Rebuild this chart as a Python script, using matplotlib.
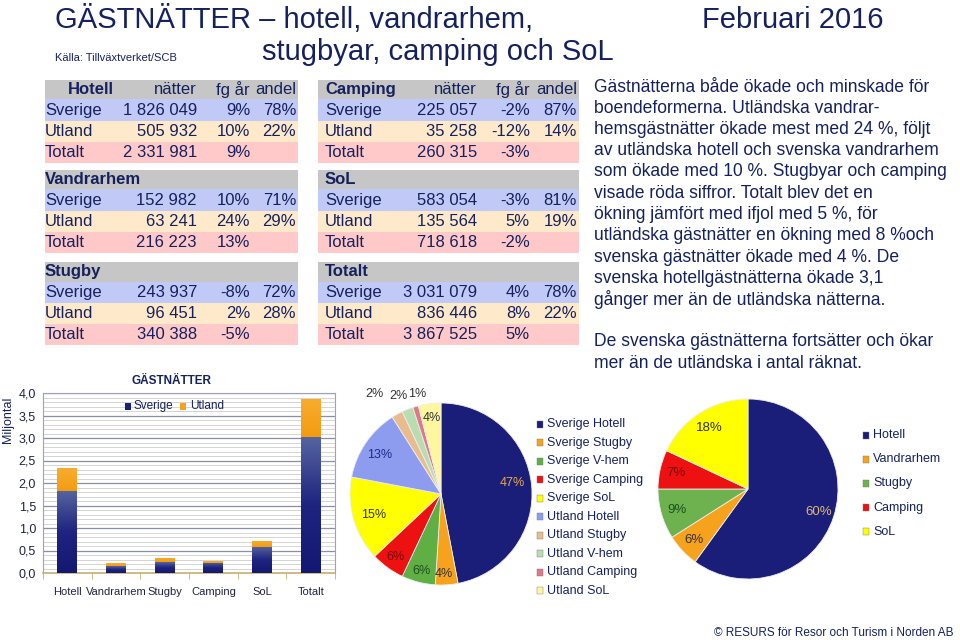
import matplotlib
matplotlib.use("Agg")
import matplotlib.pyplot as plt
import numpy as np
from matplotlib.patches import Rectangle
from matplotlib.ticker import MultipleLocator, FuncFormatter
from matplotlib.colors import LinearSegmentedColormap

plt.rcParams['font.family'] = ['Liberation Sans', 'DejaVu Sans']

# ---------------- data ----------------
rows = ["Sverige", "Utland", "Totalt"]

hotell_natter = [1826049, 505932, 2331981]
hotell_fg = ["9%", "10%", "9%"]
hotell_andel = ["78%", "22%", ""]

vandrarhem_natter = [152982, 63241, 216223]
vandrarhem_fg = ["10%", "24%", "13%"]
vandrarhem_andel = ["71%", "29%", ""]

stugby_natter = [243937, 96451, 340388]
stugby_fg = ["-8%", "2%", "-5%"]
stugby_andel = ["72%", "28%", ""]

camping_natter = [225057, 35258, 260315]
camping_fg = ["-2%", "-12%", "-3%"]
camping_andel = ["87%", "14%", ""]

sol_natter = [583054, 135564, 718618]
sol_fg = ["-3%", "5%", "-2%"]
sol_andel = ["81%", "19%", ""]

totalt_natter = [3031079, 836446, 3867525]
totalt_fg = ["4%", "8%", "5%"]
totalt_andel = ["78%", "22%", ""]

bar_categories = ["Hotell", "Vandrarhem", "Stugby", "Camping", "SoL", "Totalt"]
bar_sverige = [v[0] / 1e6 for v in [hotell_natter, vandrarhem_natter, stugby_natter,
                                    camping_natter, sol_natter, totalt_natter]]
bar_utland = [v[1] / 1e6 for v in [hotell_natter, vandrarhem_natter, stugby_natter,
                                   camping_natter, sol_natter, totalt_natter]]

pie1_labels = ["Sverige Hotell", "Sverige Stugby", "Sverige V-hem", "Sverige Camping",
               "Sverige SoL", "Utland Hotell", "Utland Stugby", "Utland V-hem",
               "Utland Camping", "Utland SoL"]
pie1_pct = [47, 4, 6, 6, 15, 13, 2, 2, 1, 4]

pie2_labels = ["Hotell", "Vandrarhem", "Stugby", "Camping", "SoL"]
pie2_pct = [60, 6, 9, 7, 18]

body_lines = [
    "Gästnätterna både ökade och minskade för",
    "boendeformerna. Utländska vandrar-",
    "hemsgästnätter ökade mest med 24 %, följt",
    "av utländska hotell och svenska vandrarhem",
    "som ökade med 10 %. Stugbyar och camping",
    "visade röda siffror. Totalt blev det en",
    "ökning jämfört med ifjol med 5 %, för",
    "utländska gästnätter en ökning med 8 %och",
    "svenska gästnätter ökade med 4 %. De",
    "svenska hotellgästnätterna ökade 3,1",
    "gånger mer än de utländska nätterna.",
    "",
    "De svenska gästnätterna fortsätter och ökar",
    "mer än de utländska i antal räknat.",
]

# ---------------- helpers ----------------
W, H = 960, 640
NAVY = "#15215E"
fig = plt.figure(figsize=(W / 100, H / 100), dpi=100)


def X(x):
    return x / W


def Y(y):
    return 1 - y / H


def rect(l, t, w, h):
    return [l / W, 1 - (t + h) / H, w / W, h / H]


def fmt_num(v):
    return f"{v:,}".replace(",", " ")


def txt(x, y, s, **kw):
    kw.setdefault("color", NAVY)
    kw.setdefault("va", "center")
    fig.text(X(x), Y(y), s, **kw)


# ---------------- titles ----------------
txt(55, 20, "GÄSTNÄTTER – hotell, vandrarhem,", fontsize=21)
txt(262, 52, "stugbyar, camping och SoL", fontsize=21)
txt(55, 58, "Källa: Tillväxtverket/SCB", fontsize=8)
txt(702, 20, "Februari 2016", fontsize=21)
txt(953, 633, "© RESURS för Resor och Turism i Norden AB", fontsize=8.5, ha="right")

# ---------------- tables ----------------
row_colors = ["#C6C6C6", "#C1C9F6", "#FEEACB", "#FFC9C9"]
group_tops = [80, 170, 262]
row_h = [19.5, 21.3, 21.3, 21.3]

left_groups = [("Hotell", hotell_natter, hotell_fg, hotell_andel),
               ("Vandrarhem", vandrarhem_natter, vandrarhem_fg, vandrarhem_andel),
               ("Stugby", stugby_natter, stugby_fg, stugby_andel)]
right_groups = [("Camping", camping_natter, camping_fg, camping_andel),
                ("SoL", sol_natter, sol_fg, sol_andel),
                ("Totalt", totalt_natter, totalt_fg, totalt_andel)]

tables = [
    dict(groups=left_groups, x0=45, x1=298, lab=45, c1=197, c2=250, c3=296),
    dict(groups=right_groups, x0=318, x1=579, lab=325, c1=477, c2=530, c3=577),
]

FS = 12
for ti, t in enumerate(tables):
    for gi, (name, natter, fg, andel) in enumerate(t["groups"]):
        y = group_tops[gi]
        centers = []
        for ri in range(4):
            fig.patches.append(Rectangle((X(t["x0"]), Y(y + row_h[ri])),
                                         (t["x1"] - t["x0"]) / W, row_h[ri] / H,
                                         transform=fig.transFigure,
                                         facecolor=row_colors[ri], edgecolor="none",
                                         zorder=0))
            centers.append(y + row_h[ri] / 2)
            y += row_h[ri]
        hx = t["lab"] + (23 if (ti == 0 and gi == 0) else 0)
        txt(hx, centers[0], name, fontsize=FS, fontweight="bold")
        if gi == 0:
            txt(t["c1"], centers[0], "nätter", fontsize=FS, ha="right")
            txt(t["c2"], centers[0], "fg år", fontsize=FS, ha="right")
            txt(t["c3"], centers[0], "andel", fontsize=FS, ha="right")
        for ri in range(3):
            cy = centers[ri + 1]
            txt(t["lab"], cy, rows[ri], fontsize=FS)
            txt(t["c1"], cy, fmt_num(natter[ri]), fontsize=FS, ha="right")
            txt(t["c2"], cy, fg[ri], fontsize=FS, ha="right")
            if andel[ri]:
                txt(t["c3"], cy, andel[ri], fontsize=FS, ha="right")

# ---------------- body text ----------------
for i, line in enumerate(body_lines):
    y = 87 + i * 21.25
    if line:
        txt(594, y, line, fontsize=12.65)

# ---------------- bar chart ----------------
ax = fig.add_axes(rect(43, 393, 292, 180))
xs = np.arange(len(bar_categories))
bw = 0.41
b1 = ax.bar(xs, bar_sverige, width=bw, color="#1A1F78", zorder=3)
b2 = ax.bar(xs, bar_utland, width=bw, bottom=bar_sverige, color="#F6A21C", zorder=3)

grad = np.linspace(0, 1, 64).reshape(-1, 1)
cm_navy = LinearSegmentedColormap.from_list("n", ["#141872", "#1E2480", "#56649F"])
cm_or = LinearSegmentedColormap.from_list("o", ["#F39C12", "#F8AC2E"])
for bars, cm in ((b1, cm_navy), (b2, cm_or)):
    for p in bars:
        x0, y0 = p.get_x(), p.get_y()
        im = ax.imshow(grad, extent=[x0, x0 + p.get_width(), y0, y0 + p.get_height()],
                       origin="lower", cmap=cm, aspect="auto", zorder=3.5)
        im.set_clip_path(p)

ax.set_xlim(-0.5, 5.5)
ax.set_ylim(0, 4.0)
ax.yaxis.set_major_locator(MultipleLocator(0.5))
ax.yaxis.set_minor_locator(MultipleLocator(0.1))
ax.yaxis.set_major_formatter(FuncFormatter(lambda v, p: f"{v:.1f}".replace(".", ",")))
ax.grid(axis="y", which="minor", color="#D4D4D4", lw=0.7, zorder=0)
ax.grid(axis="y", which="major", color="#8A8FA8", lw=0.9, zorder=0)
ax.set_xticks(xs)
ax.set_xticklabels(bar_categories, fontsize=8, color="#222244")
ax.tick_params(axis="x", length=0, pad=10)
ax.set_xticks(np.arange(-0.5, 6, 1), minor=True)
ax.tick_params(axis="x", which="minor", length=4, color="#C8B070")
ax.tick_params(axis="y", which="both", length=0, labelsize=9, labelcolor="#222244", pad=5)
for s in ["top", "right", "left"]:
    ax.spines[s].set_color("#9AA2C0")
ax.spines["bottom"].set_color("#C8B070")
ax.spines["bottom"].set_linewidth(1.2)
ax.set_axisbelow(True)
txt(8, 420, "Miljontal", fontsize=9, rotation=90, ha="center")
txt(172, 381, "GÄSTNÄTTER", fontsize=8.5, fontweight="bold", ha="center")
fig.patches.append(Rectangle((X(125), Y(410)), 6 / W, 7 / H, transform=fig.transFigure,
                             facecolor="#1A1F78", edgecolor="none", zorder=5))
txt(134, 406, "Sverige", fontsize=8.5)
fig.patches.append(Rectangle((X(180), Y(410)), 6 / W, 7 / H, transform=fig.transFigure,
                             facecolor="#F6A21C", edgecolor="none", zorder=5))
txt(190, 406, "Utland", fontsize=8.5)

# ---------------- pie 1 ----------------
pie1_colors = ["#1B1E78", "#F7A21C", "#5FAF45", "#EE1111", "#FFFF00",
               "#8E9CF0", "#E9BC8F", "#B9DDB0", "#E07888", "#FFF7A0"]
pie1_txtcol = ["#E8A84A", "#333333", "#1F4F1F", "#7A0A0A", "#333333",
               "#1E2A8A", "#333333", "#333333", "#333333", "#333333"]
pie1_r = [0.79, 0.88, 0.87, 0.85, 0.78, 0.80, 1.32, 1.17, 1.13, 0.84]
pie1_dth = [3, -1.5, 0, 0, 1, 1.5, 4.6, 2.0, -3.0, 0]
ap1 = fig.add_axes(rect(350, 403, 182, 182))
w1, _ = ap1.pie(pie1_pct, colors=pie1_colors, startangle=90, counterclock=False,
                wedgeprops=dict(edgecolor="#EDEDED", linewidth=0.6))
ap1.set_xlim(-1, 1); ap1.set_ylim(-1, 1); ap1.set_aspect("equal"); ap1.axis("off")
for w, v, r, dth, c in zip(w1, pie1_pct, pie1_r, pie1_dth, pie1_txtcol):
    a = np.deg2rad((w.theta1 + w.theta2) / 2 + dth)
    ap1.text(r * np.cos(a), r * np.sin(a), f"{v}%", ha="center",
             va="center", fontsize=9, color=c, clip_on=False)
for i, (lab, col) in enumerate(zip(pie1_labels, pie1_colors)):
    y = 424 + i * 18.55
    fig.patches.append(Rectangle((X(537), Y(y + 3.5)), 6 / W, 7 / H,
                                 transform=fig.transFigure, facecolor=col,
                                 edgecolor="#777777", linewidth=0.3, zorder=5))
    txt(547, y, lab, fontsize=9)

# ---------------- pie 2 ----------------
pie2_colors = ["#1B1E78", "#F7A21C", "#6DB24F", "#EE1111", "#FFFF00"]
pie2_txtcol = ["#E0B870", "#333333", "#1F4F1F", "#7A0A0A", "#333333"]
pie2_r = [0.82, 0.82, 0.82, 0.82, 0.80]
ap2 = fig.add_axes(rect(658, 399, 180, 180))
w2, _ = ap2.pie(pie2_pct, colors=pie2_colors, startangle=90, counterclock=False,
                wedgeprops=dict(edgecolor="#EDEDED", linewidth=0.6))
ap2.set_xlim(-1, 1); ap2.set_ylim(-1, 1); ap2.set_aspect("equal"); ap2.axis("off")
for w, v, r, c in zip(w2, pie2_pct, pie2_r, pie2_txtcol):
    a = np.deg2rad((w.theta1 + w.theta2) / 2)
    ap2.text(r * np.cos(a), r * np.sin(a), f"{v}%", ha="center",
             va="center", fontsize=9.5, color=c)
for i, (lab, col) in enumerate(zip(pie2_labels, pie2_colors)):
    y = 435 + i * 24.2
    fig.patches.append(Rectangle((X(863), Y(y + 3.5)), 6 / W, 7 / H,
                                 transform=fig.transFigure, facecolor=col,
                                 edgecolor="#777777", linewidth=0.3, zorder=5))
    txt(873, y, lab, fontsize=9)

fig.savefig("out.png", dpi=100)
